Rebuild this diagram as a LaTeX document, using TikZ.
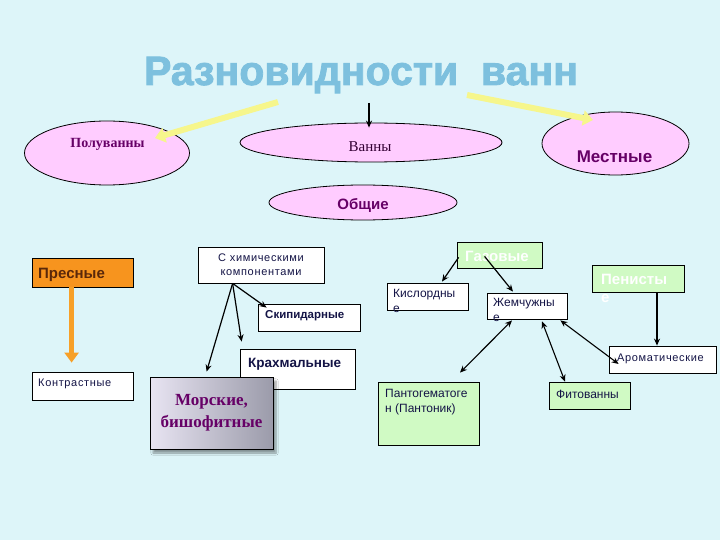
\documentclass[tikz,border=0pt]{standalone}
\usepackage{fontspec}
\setmainfont{Liberation Sans}
\newfontfamily\serifru{Liberation Serif}
\newfontfamily\titlefont[FakeBold=2]{Liberation Sans}
\newfontfamily\spacedsans[LetterSpace=6]{Liberation Sans}
\usetikzlibrary{shapes.geometric,arrows.meta,shadows,shadows.blur,calc}
\definecolor{bg}{RGB}{221,245,249}
\definecolor{pinkfill}{RGB}{255,204,255}
\definecolor{greenfill}{RGB}{208,250,196}
\definecolor{titleblue}{RGB}{125,192,222}
\definecolor{purp}{RGB}{102,0,102}
\definecolor{darkpurp}{RGB}{51,0,51}
\definecolor{navy}{RGB}{20,20,70}
\definecolor{orangefill}{RGB}{247,148,30}
\definecolor{orangearr}{RGB}{247,160,40}
\definecolor{yel}{RGB}{246,246,140}
\definecolor{brownt}{RGB}{90,40,10}
\definecolor{morelight}{RGB}{232,228,242}
\definecolor{moredark}{RGB}{155,155,170}
\begin{document}
\begin{tikzpicture}[x=1pt,y=-1pt,
  ell/.style={ellipse, draw=black, line width=0.8pt, fill=pinkfill, inner sep=0pt},
  box/.style={rectangle, draw=black, line width=0.8pt, fill=white, inner sep=0pt},
  gbox/.style={box, fill=greenfill},
  lbl/.style={inner sep=0pt},
  small/.style={lbl, text=navy, font=\spacedsans\fontsize{11}{14}\selectfont},
  mid/.style={lbl, text=navy, align=left, font=\fontsize{12}{15}\selectfont},
  arr/.style={-{Stealth[length=7pt,width=6pt]}, line width=1.2pt, black},
  darr/.style={{Stealth[length=7pt,width=6pt]}-{Stealth[length=7pt,width=6pt]}, line width=1.1pt, black},
  yarr/.style={-{Triangle[length=10pt,width=15pt]}, line width=6pt, yel},
  oarr/.style={-{Triangle[length=10pt,width=14pt]}, line width=5pt, orangearr}
]
\fill[bg] (0,0) rectangle (720,540);
\useasboundingbox (0,0) rectangle (720,540);

% title
\node[lbl, anchor=base, text=titleblue, font=\titlefont\bfseries\fontsize{41}{48}\selectfont] (title) at (361,85) {Разновидности\ \ ванн};

% ellipses
\node[ell, minimum width=165, minimum height=64] (polu) at (107,153) {};
\node[lbl, anchor=base, text=purp, font=\serifru\bfseries\fontsize{14}{16}\selectfont] (polut) at (107.5,148) {Полуванны};
\node[ell, minimum width=262, minimum height=39] (vanny) at (371,142.5) {};
\node[lbl, anchor=base, text=darkpurp, font=\serifru\fontsize{15}{18}\selectfont] (vannyt) at (370,152) {Ванны};
\node[ell, minimum width=188, minimum height=35] (obsh) at (363,202.5) {};
\node[lbl, anchor=base, text=purp, font=\bfseries\fontsize{15}{18}\selectfont] (obsht) at (363,210) {Общие};
\node[ell, minimum width=147, minimum height=63] (mest) at (615.5,143.5) {};
\node[lbl, anchor=base, text=purp, font=\bfseries\fontsize{17}{20}\selectfont] (mestt) at (614.5,163) {Местные};

% top arrows
\coordinate (ta) at (369,103);
\draw[arr] (ta) -- ($(vanny.north)+(-2,5)$);
\coordinate (yl) at (278,102);
\draw[yarr] (yl) -- ($(polu.center)+(48,-15)$);
\coordinate (yr) at (467,95);
\draw[yarr] (yr) -- ($(mest.center)+(-22.5,-23.5)$);

% left column
\node[box, fill=orangefill, minimum width=101, minimum height=29] (pres) at (82.5,272.5) {};
\node[lbl, anchor=base west, text=brownt, font=\bfseries\fontsize{15}{18}\selectfont] (prest) at (38,278) {Пресные};
\node[box, minimum width=101, minimum height=28] (kontr) at (82.5,386) {};
\node[small, anchor=base west] (kontrt) at (38,386) {Контрастные};
\draw[oarr] ($(pres.south west)+(40,0)$) -- ($(kontr.north west)+(40,-9)$);

% chemical group
\node[box, minimum width=126, minimum height=36, align=center, text=navy, font=\spacedsans\fontsize{11}{14}\selectfont] (chem) at (261,265) {С химическими\\компонентами};
\node[box, minimum width=102, minimum height=27] (skip) at (309,317.5) {};
\node[lbl, anchor=base west, text=navy, font=\bfseries\fontsize{11.5}{14}\selectfont] (skipt) at (265,318) {Скипидарные};
\node[box, minimum width=115, minimum height=40] (krah) at (297.5,369) {};
\node[lbl, anchor=base west, text=navy, font=\bfseries\fontsize{13.5}{16}\selectfont] (kraht) at (248,367) {Крахмальные};
\node[box, left color=morelight, right color=moredark, blur shadow={shadow xshift=3pt, shadow yshift=-4pt, shadow blur steps=6}, minimum width=123, minimum height=72, align=center, text=purp, font=\serifru\bfseries\fontsize{17}{22}\selectfont] (more) at (211.5,413) {Морские,\\бишофитные};

\coordinate (chemfoot) at ($(chem.south west)+(35,0)$);
\draw[arr] (chemfoot) -- ($(skip.north west)+(9,4)$);
\draw[arr] (chemfoot) -- ($(krah.north west)+(2,-7)$);
\draw[arr] (chemfoot) -- ($(more.north west)+(57,-5)$);

% gas group
\node[gbox, minimum width=85, minimum height=26] (gaz) at (499.5,255) {};
\node[lbl, anchor=base west, text=white, font=\bfseries\fontsize{15}{18}\selectfont] (gazt) at (465,261) {Газовые};
\node[box, minimum width=81, minimum height=27] (kis) at (427.5,296.5) {};
\node[mid, anchor=north west] (kist) at (393,289) {Кислордны\\е};
\node[box, minimum width=80, minimum height=26] (zhem) at (527,306) {};
\node[mid, anchor=north west] (zhemt) at (493,298.5) {Жемчужны\\е};
\node[gbox, minimum width=92, minimum height=27] (pen) at (638,278.5) {};
\node[lbl, anchor=north west, align=left, text=white, font=\bfseries\fontsize{15}{18}\selectfont] (pent) at (601,274) {Пенисты\\е};
\node[box, minimum width=107, minimum height=27] (arom) at (662.5,359.5) {};
\node[small, anchor=base west] (aromt) at (617,361) {Ароматические};
\node[gbox, minimum width=101, minimum height=63] (pant) at (428.5,413.5) {};
\node[mid, anchor=north west] (pantt) at (385,389.4) {Пантогематоге\\н (Пантоник)};
\node[gbox, minimum width=81, minimum height=27] (fito) at (589.5,395.5) {};
\node[mid, anchor=base west] (fitot) at (556,398) {Фитованны};

\draw[arr] ($(gaz.south west)+(2,-11)$) -- ($(kis.north)+(14.5,-1)$);
\draw[arr] ($(gaz.south west)+(28,-12)$) -- ($(zhem.north)+(-14,-1)$);
\draw[arr] ($(pen.south)+(19,0)$) -- ($(arom.north)+(-5.5,0)$);
\draw[darr] ($(zhem.south)+(-15,1)$) -- ($(pant.north)+(31.5,-9)$);
\draw[darr] ($(zhem.south)+(15,2)$) -- ($(fito.north)+(-24.5,0)$);
\draw[darr] ($(zhem.south east)+(-7,1)$) -- ($(arom.west)+(10,4.5)$);
\end{tikzpicture}
\end{document}
